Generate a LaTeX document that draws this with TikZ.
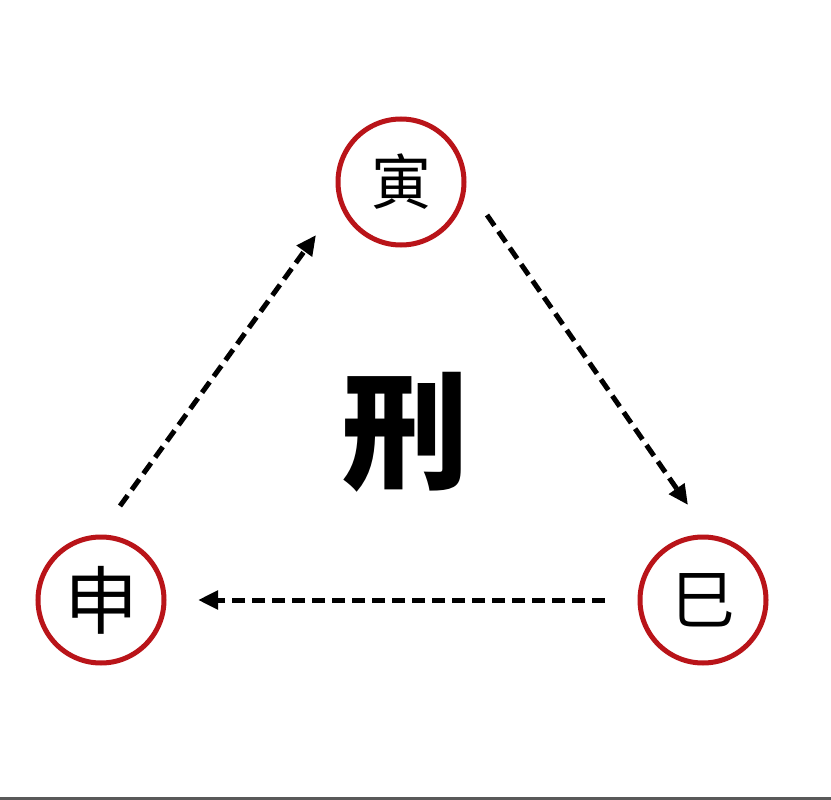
\documentclass[tikz,border=0pt]{standalone}
\usepackage{fontspec}
\newfontfamily\cjk{Noto Sans CJK SC}
\usetikzlibrary{arrows.meta}
\begin{document}
\begin{tikzpicture}[x=1pt,y=-1pt,
  branch/.style={circle,draw={rgb,255:red,185;green,20;blue,25},line width=5pt,minimum size=126pt,inner sep=0pt},
  flow/.style={dashed,dash pattern=on 13pt off 7pt,line width=5pt,-{Triangle[length=20pt,width=18pt]}}]
\useasboundingbox (0,0) rectangle (831,800);
\fill[white] (0,0) rectangle (831,800);
\fill[gray!70!black] (0,797) rectangle (831,800);
\node[branch,font=\cjk\fontsize{60}{60}\selectfont] (yin) at (401,182) {寅};
\node[branch,font=\cjk\fontsize{74}{74}\selectfont] (shen) at (101,600) {申};
\node[branch,font=\cjk\fontsize{64}{64}\selectfont] (si) at (703,600) {巳};
\node[font=\cjk\fontsize{128}{128}\selectfont\bfseries] (xing) at (405,432) {刑};
\coordinate (a1) at (120,506); \coordinate (a2) at (316,235);
\coordinate (b1) at (487,215); \coordinate (b2) at (688,505);
\coordinate (c1) at (605,600); \coordinate (c2) at (198,600);
\draw[flow] (a1) -- (a2);
\draw[flow] (b1) -- (b2);
\draw[flow] (c1) -- (c2);
\end{tikzpicture}
\end{document}
